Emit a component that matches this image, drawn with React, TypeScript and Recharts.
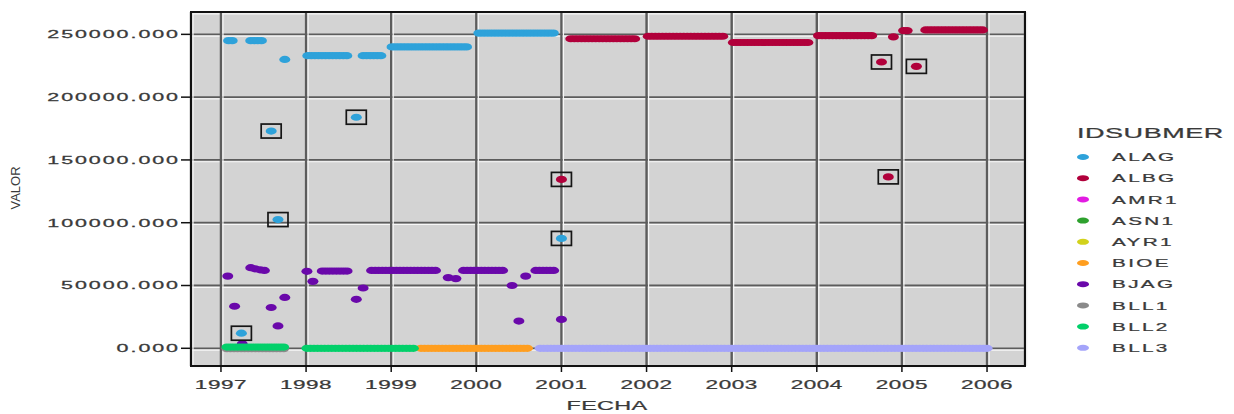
import { ScatterChart, Scatter, XAxis, YAxis, CartesianGrid, ReferenceArea } from 'recharts';

// IDSUBMER series, in legend order
const SERIES = ['ALAG', 'ALBG', 'AMR1', 'ASN1', 'AYR1', 'BIOE', 'BJAG', 'BLL1', 'BLL2', 'BLL3'];
const COLORS: Record<string, string> = {
  ALAG: '#2ea2da',
  ALBG: '#b1003b',
  AMR1: '#e21be2',
  ASN1: '#2ea12e',
  AYR1: '#d2d21c',
  BIOE: '#ff9e1f',
  BJAG: '#6a08aa',
  BLL1: '#8a8a8a',
  BLL2: '#02d06a',
  BLL3: '#a4a4fa',
};

// runs of readings: [first FECHA, last FECHA, VALOR] (readings twice a month)
const alagRuns = [
  [1997.09, 1997.16, 245000],
  [1997.35, 1997.49, 245000],
  [1997.75, 1997.75, 230000],
  [1998.02, 1998.49, 233000],
  [1998.67, 1998.9, 233000],
  [1999.01, 1999.9, 240000],
  [2000.03, 2000.92, 251000],
];
const albgRuns = [
  [2001.11, 2001.89, 246500],
  [2002.02, 2002.92, 248500],
  [2003.02, 2003.91, 243500],
  [2004.02, 2004.65, 249000],
  [2004.9, 2004.9, 248000],
  [2005.02, 2005.07, 253000],
  [2005.28, 2005.97, 253500],
];
const bjagRuns = [
  [1997.08, 1997.08, 57500],
  [1997.16, 1997.16, 33500],
  [1997.25, 1997.25, 3500],
  [1997.35, 1997.35, 64200],
  [1997.4, 1997.4, 63300],
  [1997.46, 1997.46, 62500],
  [1997.51, 1997.51, 62000],
  [1997.59, 1997.59, 32500],
  [1997.67, 1997.67, 17800],
  [1997.75, 1997.75, 40500],
  [1998.01, 1998.01, 61300],
  [1998.08, 1998.08, 53300],
  [1998.19, 1998.49, 61500],
  [1998.59, 1998.59, 39000],
  [1998.67, 1998.67, 48000],
  [1998.77, 1999.55, 62000],
  [1999.67, 1999.67, 56300],
  [1999.76, 1999.76, 55500],
  [1999.85, 2000.31, 62000],
  [2000.42, 2000.42, 50000],
  [2000.5, 2000.5, 21700],
  [2000.58, 2000.58, 57500],
  [2000.7, 2000.92, 62000],
  [2001.0, 2001.0, 23000],
];
const bll1Runs = [[1997.07, 1997.75, -250]];
const bll2Runs = [
  [1997.07, 1997.75, 1000],
  [1998.01, 1999.3, 0],
];
const bioeRuns = [[1999.35, 2000.62, 0]];
const bll3Runs = [[2000.75, 2006.0, 0]];

// boxed (flagged) readings: [FECHA, VALOR]
const alagFlagged = [
  [1997.24, 12000],
  [1997.59, 173000],
  [1997.67, 102500],
  [1998.59, 184000],
  [2001.0, 87500],
];
const albgFlagged = [
  [2001.0, 134500],
  [2004.76, 228000],
  [2004.84, 136500],
  [2005.17, 224500],
];

const yearTicks = [1997, 1998, 1999, 2000, 2001, 2002, 2003, 2004, 2005, 2006];
const valueTicks = [0, 50000, 100000, 150000, 200000, 250000];
const X_DOMAIN = [1996.648, 2006.446];
const Y_DOMAIN = [-14100, 267800];

const STEP = 1 / 24;
function expand(runs: number[][]) {
  const out: { fecha: number; valor: number }[] = [];
  runs.forEach(([a, b, v]) => {
    for (let t = a; t <= b + 1e-6; t += STEP) out.push({ fecha: t, valor: v });
  });
  return out;
}
const toPoints = (rows: number[][]) => rows.map(([f, v]) => ({ fecha: f, valor: v }));

const FONT = '"Liberation Sans", Arial, sans-serif';
const TXT = '#3a3a3a';

const dot = (color: string) => (p: any) => (
  <ellipse cx={p.cx} cy={p.cy} rx={5.5} ry={3.6} fill={color} />
);
const boxedDot = (color: string) => (p: any) => (
  <g>
    <rect x={p.cx - 10} y={p.cy - 7} width={20} height={14} fill="none" stroke="#151515" strokeWidth={1.7} />
    <ellipse cx={p.cx} cy={p.cy} rx={5.5} ry={3.6} fill={color} />
  </g>
);

const vLine = (p: any) => (
  <g key={`v-${p.index}`}>
    <line x1={p.x1} y1={p.y1} x2={p.x2} y2={p.y2} stroke="#5c5c5c" strokeWidth={2.4} />
    <line x1={p.x1 + 2} y1={p.y1} x2={p.x2 + 2} y2={p.y2} stroke="#f7f7f7" strokeWidth={1.2} />
  </g>
);
const hLine = (p: any) => (
  <g key={`h-${p.index}`}>
    <line x1={p.x1} y1={p.y1} x2={p.x2} y2={p.y2} stroke="#5c5c5c" strokeWidth={1.8} />
    <line x1={p.x1} y1={p.y1 + 1.8} x2={p.x2} y2={p.y2 + 1.8} stroke="#f7f7f7" strokeWidth={1.2} />
  </g>
);

// wide-set labels, as in the source plot
const wide = { fill: TXT, fontFamily: FONT, stroke: TXT, strokeWidth: 0.25 };

const YTick = ({ x, y, payload }: any) => (
  <text transform={`translate(${x},${y}) scale(1.95,1)`} textAnchor="end" dy="0.36em" fontSize={11} letterSpacing={1} {...wide}>
    {Number(payload.value).toFixed(3)}
  </text>
);

const XTick = ({ x, y, payload }: any) => (
  <text transform={`translate(${x},${y}) scale(1.8,1)`} textAnchor="middle" dy={17.5} fontSize={12.5} letterSpacing={0.3} {...wide}>
    {payload.value}
  </text>
);

const plotted: [string, number[][]][] = [
  ['ALAG', alagRuns],
  ['ALBG', albgRuns],
  ['BIOE', bioeRuns],
  ['BJAG', bjagRuns],
  ['BLL1', bll1Runs],
  ['BLL2', bll2Runs],
  ['BLL3', bll3Runs],
];

export default function App() {
  return (
    <div style={{ position: 'absolute', left: 0, top: 0, width: 1234, height: 414, background: '#fff' }}>
      <ScatterChart width={1234} height={414} margin={{ top: 12, right: 209, bottom: 0, left: 0 }}>
        <CartesianGrid fill="#d3d3d3" vertical={vLine} horizontal={hLine} />
        <XAxis
          type="number"
          dataKey="fecha"
          domain={X_DOMAIN}
          ticks={yearTicks}
          allowDataOverflow
          height={48}
          tickSize={6}
          tickMargin={0}
          axisLine={false}
          tickLine={{ stroke: '#111', strokeWidth: 1.5 }}
          tick={XTick}
        />
        <YAxis
          type="number"
          dataKey="valor"
          domain={Y_DOMAIN}
          ticks={valueTicks}
          allowDataOverflow
          width={191}
          tickSize={10}
          tickMargin={1}
          axisLine={false}
          tickLine={{ stroke: '#111', strokeWidth: 1.5 }}
          tick={YTick}
        />
        {plotted.map(([name, runs]) => (
          <Scatter
            key={name}
            name={name}
            data={expand(runs)}
            fill={COLORS[name]}
            shape={dot(COLORS[name])}
            isAnimationActive={false}
          />
        ))}
        <Scatter name="ALAG flagged" data={toPoints(alagFlagged)} fill={COLORS.ALAG} shape={boxedDot(COLORS.ALAG)} isAnimationActive={false} />
        <Scatter name="ALBG flagged" data={toPoints(albgFlagged)} fill={COLORS.ALBG} shape={boxedDot(COLORS.ALBG)} isAnimationActive={false} />
        <ReferenceArea
          x1={X_DOMAIN[0]}
          x2={X_DOMAIN[1]}
          y1={Y_DOMAIN[0]}
          y2={Y_DOMAIN[1]}
          fill="none"
          fillOpacity={0}
          stroke="#111"
          strokeWidth={2}
          ifOverflow="visible"
        />
      </ScatterChart>

      <svg width={1234} height={414} style={{ position: 'absolute', left: 0, top: 0, pointerEvents: 'none' }}>
        <text transform="translate(20,188) rotate(-90)" textAnchor="middle" fontSize={13} fill={TXT} fontFamily={FONT}>
          VALOR
        </text>
        <text transform="translate(607,405) scale(1.8,1)" textAnchor="middle" dy="0.36em" fontSize={13} letterSpacing={0.2} {...wide}>
          FECHA
        </text>
        <text transform="translate(1077,133) scale(1.8,1)" dy="0.36em" fontSize={15} letterSpacing={0.3} {...wide}>
          IDSUBMER
        </text>
        {SERIES.map((s, i) => (
          <g key={s}>
            <ellipse cx={1083} cy={157 + i * 21.2} rx={6} ry={3} fill={COLORS[s]} />
            <text transform={`translate(1112,${157 + i * 21.2}) scale(1.8,1)`} dy="0.36em" fontSize={11.5} letterSpacing={1.3} {...wide}>
              {s}
            </text>
          </g>
        ))}
      </svg>
    </div>
  );
}
